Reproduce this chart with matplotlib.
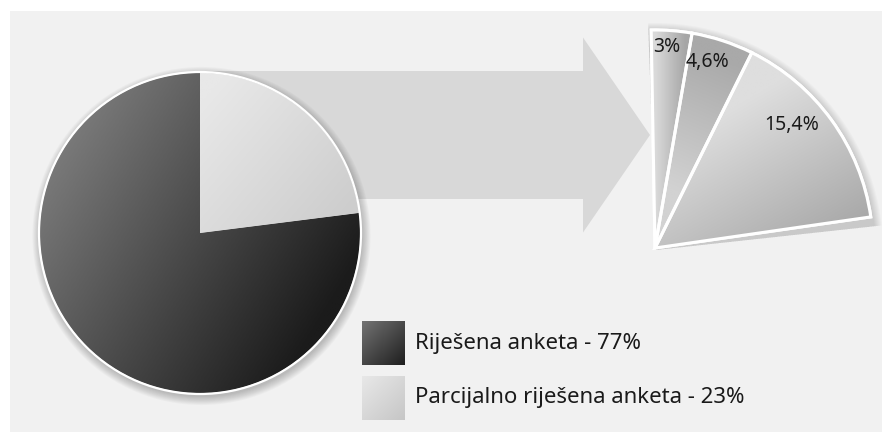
import numpy as np
import matplotlib
matplotlib.use("Agg")
import matplotlib.pyplot as plt
from matplotlib.patches import Rectangle, Circle, FancyArrow, Wedge
from matplotlib.colors import LinearSegmentedColormap

plt.rcParams['font.family'] = ['Noto Sans', 'DejaVu Sans']

# ---- data ----
categories = ['Riješena anketa', 'Parcijalno riješena anketa']
shares = [77, 23]
share_labels = ['77%', '23%']
sub_values = [3.0, 4.6, 15.4]
sub_labels = ['3%', '4,6%', '15,4%']

W, H = 882, 432
fig = plt.figure(figsize=(8.82, 4.32), dpi=100, facecolor='white')
ax = fig.add_axes([0, 0, 1, 1])


def gradient(ax, patch, c1, c2, p1, p2, extent, zorder):
    x0, x1, y0, y1 = extent
    xs = np.linspace(x0, x1, 200)
    ys = np.linspace(y0, y1, 200)
    X, Y = np.meshgrid(xs, ys)
    dx, dy = p2[0] - p1[0], p2[1] - p1[1]
    t = ((X - p1[0]) * dx + (Y - p1[1]) * dy) / (dx * dx + dy * dy)
    t = np.clip(t, 0, 1)
    cmap = LinearSegmentedColormap.from_list('g', [c1, c2])
    im = ax.imshow(t, extent=extent, origin='lower', cmap=cmap, vmin=0, vmax=1,
                   zorder=zorder, interpolation='bilinear', aspect='auto')
    im.set_clip_path(patch)
    return im


# background panel
ax.add_patch(Rectangle((10, 0), 872, 421, facecolor='#f1f1f1', edgecolor='none', zorder=0))

# arrow
ax.add_patch(FancyArrow(200, 297, 383, 0, width=128, head_width=195, head_length=67,
                        length_includes_head=False, facecolor='#d8d8d8',
                        edgecolor='none', zorder=1))

# big pie
pc = (200, 199)
pr = 160
for i in range(10):
    ax.add_patch(Circle((pc[0] + 1.5, pc[1] - 3), pr + 1 + i * 0.9, facecolor='black',
                        edgecolor='none', alpha=0.025, zorder=2))

total = sum(shares)
start = 90 - 360 * shares[1] / total
wedges, _ = ax.pie(shares, center=pc, radius=pr, startangle=start, counterclock=False,
                   colors=['#444444', '#dddddd'], wedgeprops=dict(linewidth=0), frame=True)
for w in wedges:
    w.set_zorder(3)
ext = (pc[0] - pr - 2, pc[0] + pr + 2, pc[1] - pr - 2, pc[1] + pr + 2)
gradient(ax, wedges[0], '#7e7e7e', '#1b1b1b', (60, 312), (340, 140), ext, 4)
gradient(ax, wedges[1], '#e8e8e8', '#cdcdcd', (210, 340), (350, 220), ext, 4)
ax.add_patch(Circle(pc, pr + 1, fill=False, edgecolor='white', linewidth=1.6, zorder=6))

# fan (sub-division of the 23 %)
fc = (655, 184)
fr = 218
fracs = [v / 100 for v in sub_values]
for i in range(8):
    ax.add_patch(Wedge((fc[0] + 1, fc[1] - 2), fr + 2 + i, 90 - 360 * sum(fracs) - 1, 92,
                       facecolor='black', edgecolor='none', alpha=0.018, zorder=2))
fw, _ = ax.pie(fracs, normalize=False, center=fc, radius=fr, startangle=91,
               counterclock=False, colors=['#c8c8c8'] * 3,
               wedgeprops=dict(edgecolor='white', linewidth=2.2), frame=True)
fext = (fc[0] - 5, fc[0] + fr + 5, fc[1] - 5, fc[1] + fr + 5)
grads = [
    (('#dadada', '#a6a6a6'), (655, 300), (685, 300)),
    (('#d2d2d2', '#a9a9a9'), (680, 240), (735, 370)),
    (('#dedede', '#a9a9a9'), (760, 340), (840, 200)),
]
for w, (cols, p1, p2) in zip(fw, grads):
    w.set_zorder(3)
    gradient(ax, w, cols[0], cols[1], p1, p2, fext, 4)
    ax.add_patch(Wedge(w.center, w.r, w.theta1, w.theta2, fill=False,
                       edgecolor='white', linewidth=2.2, zorder=5))

label_pos = [(667, 385), (708, 370), (792, 307)]
for lab, (x, y) in zip(sub_labels, label_pos):
    ax.text(x, y, lab, ha='center', va='center', fontsize=14, color='#1a1a1a', zorder=7)

# legend
leg_cols = [('#737373', '#1e1e1e'), ('#e8e8e8', '#c6c6c6')]
leg_y = [89, 34]
for cat, lab, (c1, c2), y in zip(categories, share_labels, leg_cols, leg_y):
    sq = Rectangle((362, y - 22), 43, 44, facecolor=c2, edgecolor='none', zorder=3)
    ax.add_patch(sq)
    gradient(ax, sq, c1, c2, (362, y + 22), (405, y - 22), (360, 407, y - 24, y + 24), 4)
    ax.text(415, y, f'{cat} - {lab}', ha='left', va='center', fontsize=16,
            color='#1a1a1a', zorder=7)

ax.set_xlim(0, W)
ax.set_ylim(0, H)
ax.set_aspect('auto')
ax.axis('off')
fig.savefig('out.png', dpi=100, facecolor='white')
